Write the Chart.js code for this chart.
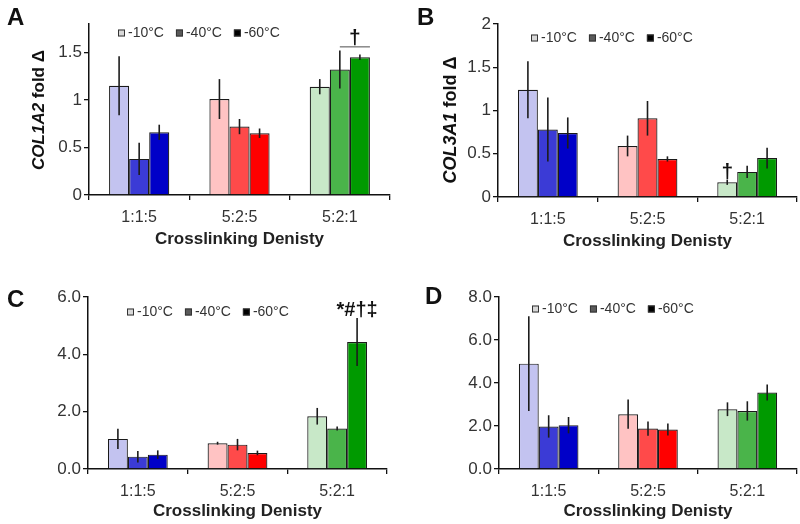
<!DOCTYPE html>
<html><head><meta charset="utf-8">
<script src="https://cdn.jsdelivr.net/npm/chart.js@4/dist/chart.umd.min.js"></script>
<style>
html,body{margin:0;padding:0;background:#fff;}
#wrap{position:relative;width:800px;height:524px;overflow:hidden;}
.p{position:absolute;width:400px;height:262px;}
</style></head><body>
<div id="wrap">
<div class="p" style="left:0;top:0"><canvas id="cA" width="400" height="262"></canvas></div>
<div class="p" style="left:400px;top:0"><canvas id="cB" width="400" height="262"></canvas></div>
<div class="p" style="left:0;top:262px"><canvas id="cC" width="400" height="262"></canvas></div>
<div class="p" style="left:400px;top:262px"><canvas id="cD" width="400" height="262"></canvas></div>
</div>
<script>
// ---------- data ----------
const categories = ['1:1:5', '5:2:5', '5:2:1'];
const seriesNames = ['-10°C', '-40°C', '-60°C'];
const xAxisTitle = 'Crosslinking Denisty';

// Panel A: COL1A2
const col1a2Mean10 = [1.15, 1.01, 1.14];
const col1a2Err10  = [0.31, 0.21, 0.08];
const col1a2Mean40 = [0.38, 0.72, 1.32];
const col1a2Err40  = [0.17, 0.08, 0.20];
const col1a2Mean60 = [0.66, 0.65, 1.45];
const col1a2Err60  = [0.08, 0.05, 0.03];
const col1a2Ticks  = [0, 0.5, 1, 1.5];

// Panel B: COL3A1
const col3a1Mean10 = [1.24, 0.59, 0.17];
const col3a1Err10  = [0.33, 0.12, 0.03];
const col3a1Mean40 = [0.78, 0.91, 0.29];
const col3a1Err40  = [0.37, 0.20, 0.07];
const col3a1Mean60 = [0.74, 0.44, 0.45];
const col3a1Err60  = [0.18, 0.03, 0.12];
const col3a1Ticks  = [0, 0.5, 1, 1.5, 2];

// Panel C: COMP
const compMean10 = [1.05, 0.90, 1.84];
const compErr10  = [0.35, 0.05, 0.29];
const compMean40 = [0.43, 0.85, 1.41];
const compErr40  = [0.20, 0.20, 0.07];
const compMean60 = [0.50, 0.56, 4.43];
const compErr60  = [0.15, 0.08, 0.84];
const compTicks  = [0, 2, 4, 6];

// Panel D: DCN
const dcnMean10 = [4.90, 2.55, 2.78];
const dcnErr10  = [2.20, 0.68, 0.32];
const dcnMean40 = [1.98, 1.88, 2.70];
const dcnErr40  = [0.52, 0.33, 0.45];
const dcnMean60 = [2.04, 1.84, 3.56];
const dcnErr60  = [0.38, 0.28, 0.37];
const dcnTicks  = [0, 2, 4, 6, 8];

// significance marks
const sigA = '†';
const sigB = '†';
const sigC = '*#†‡';

// ---------- styles ----------
const FONT = "'Liberation Sans', Arial, Helvetica, sans-serif";
const fills = [
  ['#c3c3f0', '#ffc3c3', '#c8e8c8'],   // -10°C (light)
  ['#3b3bd6', '#ff4a4a', '#4ab44a'],   // -40°C (medium)
  ['#0000c8', '#ff0000', '#009a00']    // -60°C (dark)
];
const legendFills = ['#d8d8d8', '#5a5a5a', '#000000'];

const errorBarPlugin = {
  id: 'errbars',
  afterDatasetsDraw(chart) {
    const ctx = chart.ctx, ys = chart.scales.y;
    ctx.save();
    ctx.strokeStyle = '#1c1c1c';
    ctx.lineWidth = 1.6;
    chart.data.datasets.forEach((ds, di) => {
      const meta = chart.getDatasetMeta(di);
      meta.data.forEach((bar, i) => {
        const m = ds.data[i], e = ds.errors[i];
        ctx.beginPath();
        ctx.moveTo(bar.x, ys.getPixelForValue(m + e));
        ctx.lineTo(bar.x, ys.getPixelForValue(m - e));
        ctx.stroke();
      });
    });
    ctx.restore();
  }
};

const decorPlugin = {
  id: 'decor',
  afterDraw(chart, args, o) {
    const ctx = chart.ctx, ca = chart.chartArea;
    ctx.save();
    // panel letter
    ctx.fillStyle = '#111';
    ctx.font = 'bold 24px ' + FONT;
    ctx.textAlign = 'left';
    ctx.textBaseline = 'alphabetic';
    ctx.fillText(o.letter, o.letterX, o.letterY);
    // y-axis title (gene italic + " fold Δ")
    ctx.translate(o.yTitleX, o.yTitleY);
    ctx.rotate(-Math.PI / 2);
    ctx.textBaseline = 'middle';
    ctx.fillStyle = '#111';
    const f1 = 'italic bold ' + o.yTitleSize + 'px ' + FONT;
    const f2 = 'bold ' + o.yTitleSize + 'px ' + FONT;
    ctx.font = f1; const w1 = ctx.measureText(o.gene).width;
    ctx.font = f2; const rest = ' fold Δ'; const w2 = ctx.measureText(rest).width;
    let x0 = -(w1 + w2) / 2;
    ctx.font = f1; ctx.fillText(o.gene, x0, 0);
    ctx.font = f2; ctx.fillText(rest, x0 + w1, 0);
    ctx.restore();

    // legend
    ctx.save();
    ctx.font = '14px ' + FONT;
    ctx.textBaseline = 'middle';
    let lx = ca.left + o.legendDX;
    const ly = ca.top + o.legendDY;
    seriesNames.forEach((name, i) => {
      ctx.fillStyle = legendFills[i];
      ctx.fillRect(lx, ly - 3.5, 7, 7);
      ctx.strokeStyle = '#333';
      ctx.lineWidth = 1;
      ctx.strokeRect(lx + 0.5, ly - 3, 6, 6);
      lx += 10;
      ctx.fillStyle = '#333';
      ctx.fillText(name, lx, ly);
      lx += ctx.measureText(name).width + 12;
    });
    ctx.restore();

    // significance annotations
    if (o.sig) {
      const ys = chart.scales.y;
      const s = o.sig;
      const bar = chart.getDatasetMeta(s.ds).data[s.cat];
      ctx.save();
      ctx.fillStyle = '#111';
      ctx.font = 'bold ' + s.size + 'px ' + FONT;
      ctx.textAlign = 'center';
      ctx.textBaseline = 'alphabetic';
      if (s.bracket) {
        const b1 = chart.getDatasetMeta(s.bracket.from).data[s.cat];
        const b2 = chart.getDatasetMeta(s.bracket.to).data[s.cat];
        const yl = ys.getPixelForValue(s.bracket.value);
        const x1 = b1.x, x2 = b2.x + b2.width / 2;
        ctx.strokeStyle = '#888';
        ctx.lineWidth = 1.5;
        ctx.beginPath(); ctx.moveTo(x1, yl); ctx.lineTo(x2, yl); ctx.stroke();
        ctx.fillText(s.text, (x1 + x2) / 2, yl - 3);
      } else {
        const ds = chart.data.datasets[s.ds];
        const yt = ys.getPixelForValue(ds.data[s.cat] + ds.errors[s.cat]);
        ctx.fillText(s.text, bar.x + (s.dx || 0), yt - 2);
      }
      ctx.restore();
    }
  }
};

function makeChart(id, means, errs, tickVals, yMax, fmt, box, decor) {
  const datasets = means.map((m, i) => ({
    label: seriesNames[i],
    data: m,
    errors: errs[i],
    backgroundColor: fills[i],
    borderColor: '#1a1a1a',
    borderWidth: 1.2,
    categoryPercentage: 0.6,
    barPercentage: 1.0
  }));
  return new Chart(document.getElementById(id), {
    type: 'bar',
    data: { labels: categories, datasets },
    options: {
      responsive: false,
      animation: false,
      events: [],
      layout: { padding: { left: 0, top: box.top, right: 400 - box.right, bottom: 0 } },
      plugins: { legend: { display: false }, tooltip: { enabled: false }, decor },
      scales: {
        x: {
          grid: { display: true, drawOnChartArea: false, drawTicks: true, tickLength: 5, color: '#111', lineWidth: 1.3 },
          border: { display: true, color: '#111', width: 1.5 },
          ticks: { color: '#333', font: { family: FONT, size: 16 }, padding: box.xTickPad },
          title: { display: true, text: xAxisTitle, color: '#222', font: { family: FONT, size: 17, weight: 'bold' }, padding: { top: 0, bottom: box.xTitlePad } },
          afterFit(s) { s.height = 262 - box.bottom; }
        },
        y: {
          min: 0, max: yMax,
          afterBuildTicks(s) { s.ticks = tickVals.map(v => ({ value: v })); },
          grid: { display: true, drawOnChartArea: false, drawTicks: true, tickLength: 5, color: '#111', lineWidth: 1.3 },
          border: { display: true, color: '#111', width: 1.5 },
          ticks: { color: '#333', font: { family: FONT, size: 17 }, padding: 2, callback: fmt },
          afterFit(s) { s.width = box.left; }
        }
      }
    },
    plugins: [errorBarPlugin, decorPlugin]
  });
}

const fmtPlain = v => String(v);
const fmtOne = v => Number(v).toFixed(1);

makeChart('cA',
  [col1a2Mean10, col1a2Mean40, col1a2Mean60],
  [col1a2Err10, col1a2Err40, col1a2Err60],
  col1a2Ticks, 1.8, fmtPlain,
  { left: 89, right: 390, top: 24, bottom: 195, xTickPad: 8, xTitlePad: 12 },
  { letter: 'A', letterX: 7, letterY: 25, gene: 'COL1A2', yTitleX: 39, yTitleY: 110, yTitleSize: 17,
    legendDX: 29, legendDY: 9,
    sig: { text: sigA, size: 21, ds: 2, cat: 2, bracket: { from: 1, to: 2, value: 1.56 } } });

makeChart('cB',
  [col3a1Mean10, col3a1Mean40, col3a1Mean60],
  [col3a1Err10, col3a1Err40, col3a1Err60],
  col3a1Ticks, 2, fmtPlain,
  { left: 98, right: 397, top: 24, bottom: 197, xTickPad: 8, xTitlePad: 10 },
  { letter: 'B', letterX: 17, letterY: 25, gene: 'COL3A1', yTitleX: 51, yTitleY: 120, yTitleSize: 18,
    legendDX: 33, legendDY: 14,
    sig: { text: sigB, size: 21, ds: 0, cat: 2 } });

makeChart('cC',
  [compMean10, compMean40, compMean60],
  [compErr10, compErr40, compErr60],
  compTicks, 6, fmtOne,
  { left: 88, right: 387, top: 35, bottom: 207, xTickPad: 8, xTitlePad: 2 },
  { letter: 'C', letterX: 7, letterY: 45, gene: 'COMP', yTitleX: 44, yTitleY: 380, yTitleSize: 18,
    legendDX: 39, legendDY: 15,
    sig: { text: sigC, size: 20, ds: 2, cat: 2 } });

makeChart('cD',
  [dcnMean10, dcnMean40, dcnMean60],
  [dcnErr10, dcnErr40, dcnErr60],
  dcnTicks, 8, fmtOne,
  { left: 99, right: 397, top: 35, bottom: 207, xTickPad: 8, xTitlePad: 2 },
  { letter: 'D', letterX: 25, letterY: 42, gene: 'DCN', yTitleX: 52, yTitleY: 382, yTitleSize: 18,
    legendDX: 33, legendDY: 12 });
</script>
</body></html>
